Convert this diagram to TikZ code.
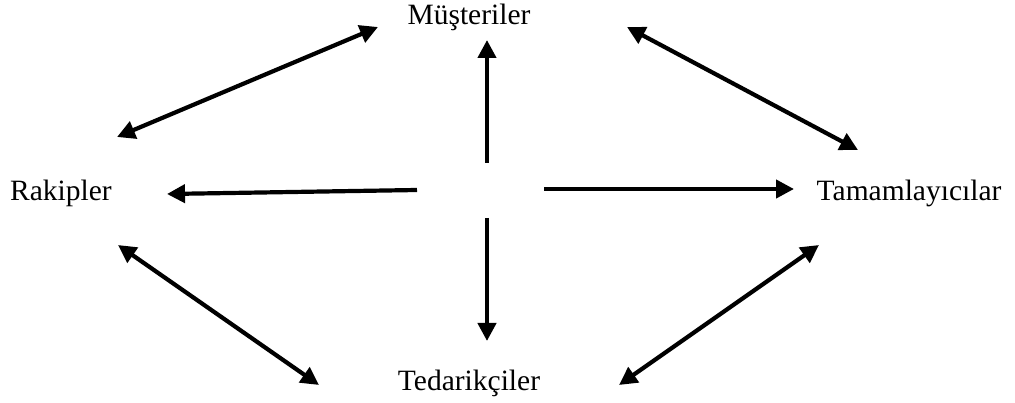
\documentclass[tikz,border=0pt]{standalone}
\usepackage{fontspec}
\setmainfont{Liberation Serif}
\usetikzlibrary{arrows.meta}
\begin{document}
\begin{tikzpicture}[x=1pt,y=-1pt,
  lbl/.style={inner sep=0pt,font=\fontsize{29.5}{32}\selectfont},
  conn/.style={line width=4.2pt,-{Triangle[length=18pt,width=18pt]}},
  both/.style={line width=4.2pt,{Triangle[length=18pt,width=18pt]}-{Triangle[length=18pt,width=18pt]}}]
\useasboundingbox (0,0) rectangle (1015,403);
% the four players
\node[lbl] (mus) at (469,17) {Müşteriler};
\node[lbl] (rak) at (61,193) {Rakipler};
\node[lbl] (tam) at (909,193) {Tamamlayıcılar};
\node[lbl] (ted) at (469,383) {Tedarikçiler};
% arrow end points
\coordinate (cu0) at (487,163);
\coordinate (cu1) at (487,40);
\coordinate (cl0) at (417,190);
\coordinate (cl1) at (167,194);
\coordinate (cr0) at (544,189);
\coordinate (cr1) at (794,189);
\coordinate (cd0) at (487,218);
\coordinate (cd1) at (487,341);
\coordinate (mr0) at (378,27);
\coordinate (mr1) at (117,137);
\coordinate (mt0) at (627,27);
\coordinate (mt1) at (858,150);
\coordinate (tt0) at (819,245);
\coordinate (tt1) at (619,385);
\coordinate (rt0) at (118,245);
\coordinate (rt1) at (319,385);
% from the centre outwards
\draw[conn] (cu0) -- (cu1);
\draw[conn] (cl0) -- (cl1);
\draw[conn] (cr0) -- (cr1);
\draw[conn] (cd0) -- (cd1);
% mutual relations around the ring
\draw[both] (mr1) -- (mr0);
\draw[both] (mt0) -- (mt1);
\draw[both] (tt0) -- (tt1);
\draw[both] (rt0) -- (rt1);
\end{tikzpicture}
\end{document}
